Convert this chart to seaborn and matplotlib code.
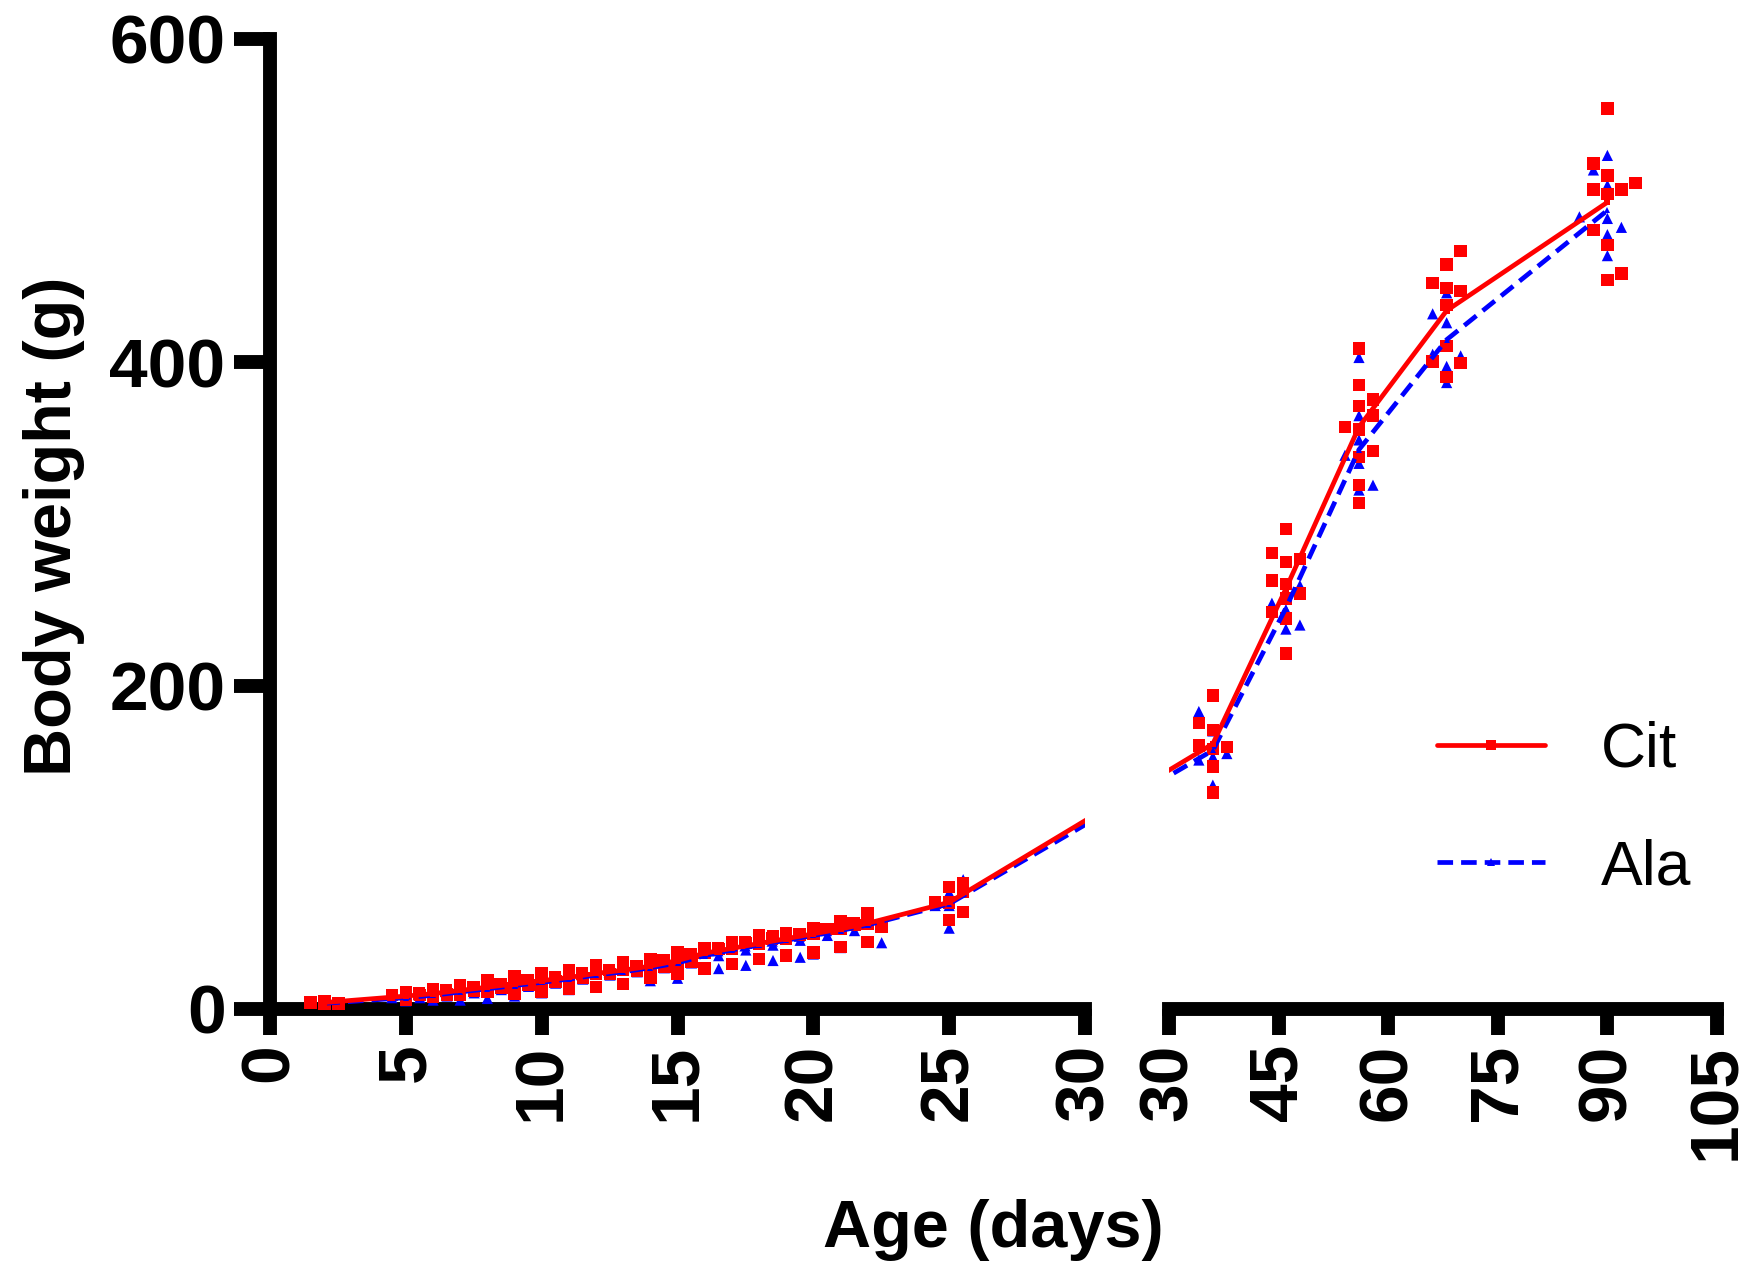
import numpy as np
import pandas as pd
import matplotlib
matplotlib.use('Agg')
import matplotlib.pyplot as plt
from matplotlib.lines import Line2D
import seaborn as sns

sns.set_style('ticks', rc={'axes.edgecolor': 'black', 'xtick.color': 'black',
                           'ytick.color': 'black', 'text.color': 'black'})
plt.rcParams['font.family'] = ['DejaVu Sans']

# group means (g)
left_days = [2, 5, 6, 7, 8, 9, 10, 11, 12, 13, 14, 15, 16, 17, 18, 19, 20, 21, 22, 25]
cit_left_mean = [4, 8, 9.5, 11.5, 13.5, 15.5, 17.5, 19.5, 22, 24, 26.5, 30, 34.5, 37.5, 40.5, 43.5, 46.5, 49.5, 53, 66]
ala_left_mean = [3.5, 7, 8.5, 10.5, 12.5, 14.5, 16.5, 18.5, 21, 23, 25.5, 28.5, 33, 36.5, 39.5, 42.5, 45.5, 48.5, 52, 65]

right_days = [36, 46, 56, 68, 90]
cit_right_mean = [164, 260, 360, 432, 499]
ala_right_mean = [160, 248, 346, 414, 494]

left_ticks = [0, 5, 10, 15, 20, 25, 30]
right_ticks = [30, 45, 60, 75, 90, 105]
y_ticks = [0, 200, 400, 600]

# individual animals: (age, scatter column, weight)
cit_pts = [
    (2, 0, 5), (2, -1, 4), (2, 0, 4), (2, 1, 3.5), (2, 0, 3),
    (5, 0, 10.5), (5, -1, 8.5), (5, 0, 8), (5, 1, 8.5), (5, 0, 6),
    (6, 0, 12.5), (6, -1, 9.5), (6, 0, 9.5), (6, 1, 9), (6, 0, 7.5),
    (7, 0, 15), (7, -1, 11.5), (7, 0, 11.5), (7, 1, 11), (7, 0, 9),
    (8, 0, 18), (8, -1, 13.5), (8, 0, 13.5), (8, 1, 13), (8, 0, 10.5),
    (9, 0, 20.5), (9, -1, 15.5), (9, 0, 15.5), (9, 1, 15), (9, 0, 9.5),
    (10, 0, 22), (10, -1, 17.5), (10, 0, 17.5), (10, 1, 17), (10, 0, 10.5),
    (11, 0, 24), (11, -1, 19.5), (11, 0, 19.5), (11, 1, 19), (11, 0, 12.5),
    (12, 0, 27), (12, -1, 22), (12, 0, 22), (12, 1, 21.5), (12, 0, 13.5),
    (13, 0, 29), (13, -1, 24), (13, 0, 24), (13, 1, 23.5), (13, 0, 15.5),
    (14, 0, 31), (14, -1, 26.5), (14, 0, 26.5), (14, 1, 26), (14, 0, 19),
    (15, 0, 35), (15, -1, 30), (15, 0, 30), (15, 1, 29.5), (15, 0, 22),
    (16, 0, 37.5), (16, -1, 34), (16, 0, 34.5), (16, 1, 37), (16, 0, 25),
    (17, 0, 41.5), (17, -1, 37.5), (17, 0, 37.5), (17, 1, 41), (17, 0, 28),
    (18, 0, 45.5), (18, -1, 41.5), (18, 0, 40.5), (18, 1, 45), (18, 0, 31),
    (19, 0, 47), (19, -1, 43.5), (19, 0, 43.5), (19, 1, 46.5), (19, 0, 33),
    (20, 0, 50), (20, -1, 46), (20, 0, 46.5), (20, 1, 49.5), (20, 0, 35),
    (21, 0, 54), (21, -1, 49.5), (21, 0, 49.5), (21, 1, 52), (21, 0, 38.5),
    (22, 0, 59), (22, -1, 53), (22, 0, 53), (22, 1, 51), (22, 0, 41.5),
    (25, 0, 75.5), (25, -1, 66), (25, 0, 66), (25, 1, 77.5), (25, 0, 55), (25, 1, 60), (25, 1, 72.5),
    (36, 0, 194), (36, -1, 177), (36, 0, 172.5), (36, -1, 163), (36, 0, 161), (36, 1, 162), (36, 0, 150), (36, 0, 134),
    (46, 0, 297), (46, -1, 282), (46, 0, 276.5), (46, -1, 265), (46, 0, 263), (46, 0, 254), (46, 1, 257),
    (46, -1, 245.5), (46, 0, 241.5), (46, 0, 220), (46, 1, 278.5),
    (56, 0, 408.5), (56, 0, 386), (56, 0, 373), (56, 0, 358.5), (56, 0, 341.5), (56, 0, 324), (56, 0, 313),
    (56, -1, 360), (56, 1, 377), (56, 1, 367), (56, 1, 345),
    (68, 0, 460.5), (68, 0, 446), (68, 0, 435.5), (68, 0, 410), (68, 0, 391), (68, -1, 449), (68, -1, 400.5),
    (68, 1, 469), (68, 1, 444), (68, 1, 399.5),
    (90, 0, 557), (90, 0, 515.5), (90, 0, 504), (90, 0, 472.5), (90, 0, 451), (90, -1, 523), (90, -1, 507),
    (90, -1, 482), (90, 1, 507), (90, 1, 455), (90, 2, 511),
]
ala_pts = [
    (2, 0, 4), (2, -1, 3.5), (2, 1, 3.5), (2, 0, 3),
    (5, 0, 9), (5, -1, 7), (5, 1, 7), (5, 0, 5),
    (6, 0, 11), (6, -1, 8.5), (6, 1, 8), (6, 0, 5.5),
    (7, 0, 13), (7, -1, 10.5), (7, 1, 10), (7, 0, 5.5),
    (8, 0, 16), (8, -1, 12.5), (8, 1, 12), (8, 0, 6.5),
    (9, 0, 19), (9, -1, 14.5), (9, 1, 14), (9, 0, 8),
    (10, 0, 21), (10, -1, 16.5), (10, 1, 16), (10, 0, 10),
    (11, 0, 23), (11, -1, 18.5), (11, 1, 18.5), (11, 0, 12),
    (12, 0, 26), (12, -1, 21), (12, 1, 21), (12, 0, 13.5),
    (13, 0, 28), (13, -1, 23), (13, 1, 23), (13, 0, 15.5),
    (14, 0, 31), (14, -1, 25.5), (14, 1, 25.5), (14, 0, 17.5),
    (15, 0, 34), (15, -1, 28.5), (15, 1, 28.5), (15, 0, 19),
    (16, 0, 37), (16, -1, 32.5), (16, 1, 33), (16, 1, 25),
    (17, 0, 40), (17, -1, 36), (17, 1, 36.5), (17, 1, 27),
    (18, 0, 44), (18, -1, 39), (18, 1, 39.5), (18, 1, 30),
    (19, 0, 47), (19, -1, 42), (19, 1, 42.5), (19, 1, 32),
    (20, 0, 50), (20, -1, 45), (20, 1, 45.5), (20, 0, 34),
    (21, 0, 53), (21, -1, 48.5), (21, 1, 48.5), (21, 0, 38),
    (22, 0, 57), (22, -1, 52), (22, 1, 52), (22, 1, 41),
    (25, 1, 80), (25, -1, 64), (25, 0, 64), (25, 0, 72), (25, 0, 50),
    (36, -1, 184), (36, 0, 172), (36, 0, 156), (36, 1, 158), (36, -1, 154), (36, 0, 138.5),
    (46, -1, 251), (46, 0, 247), (46, 1, 262), (46, 0, 235), (46, 1, 237.5),
    (56, 0, 403), (56, 0, 367), (56, 0, 352), (56, 0, 337.5), (56, 0, 321), (56, -1, 342.5), (56, 1, 324),
    (68, 0, 443), (68, 0, 424.5), (68, 0, 397.5), (68, 0, 387.5), (68, -1, 430), (68, -1, 405), (68, 1, 404),
    (90, 0, 528), (90, 0, 509.5), (90, 0, 489), (90, 0, 479), (90, 0, 466), (90, -1, 519), (90, 1, 483.5), (90, -2, 490),
]

RED = '#ff0000'
BLUE = '#0000ff'
DASH = (0, (3.3, 1.7))
ARIAL = ['Liberation Sans', 'DejaVu Sans']

fig = plt.figure(figsize=(17.54, 12.86), dpi=100)
ax_l = fig.add_axes([270 / 1754, 1 - 1009 / 1286, 815 / 1754, 970 / 1286])
ax_r = fig.add_axes([1169 / 1754, 1 - 1009 / 1286, 548 / 1754, 970 / 1286], sharey=ax_l)

ax_l.set_xlim(0, 30)
ax_r.set_xlim(30, 105)
ax_l.set_ylim(0, 600)


def px_per_unit(ax):
    a = ax.transData.transform((0, 0))
    b = ax.transData.transform((1, 0))
    return b[0] - a[0]


def bridge(src, dst, x, y):
    # same screen point, expressed in the other panel's data units
    return dst.transData.inverted().transform(src.transData.transform((x, y)))


cit = pd.DataFrame(cit_pts, columns=['age', 'col', 'weight'])
ala = pd.DataFrame(ala_pts, columns=['age', 'col', 'weight'])

for ax, is_left in [(ax_l, True), (ax_r, False)]:
    jit = 14 / px_per_unit(ax)
    for df, color, marker, size in [(ala, BLUE, '^', 65), (cit, RED, 's', 80)]:
        sub = df[df['age'] <= 30] if is_left else df[df['age'] > 30]
        sns.scatterplot(x=sub['age'] + sub['col'] * jit, y=sub['weight'], ax=ax,
                        color=color, marker=marker, s=size, edgecolor='none',
                        clip_on=False, legend=False, zorder=3)

# mean lines, continued straight across the axis break
for mean_l, mean_r, color, ls, mk in [(ala_left_mean, ala_right_mean, BLUE, DASH, '^'),
                                      (cit_left_mean, cit_right_mean, RED, '-', 's')]:
    bx, by = bridge(ax_r, ax_l, right_days[0], mean_r[0])
    sns.lineplot(x=left_days + [bx], y=mean_l + [by], ax=ax_l, sort=False, errorbar=None,
                 color=color, linewidth=3.4, linestyle=ls, marker=mk, markersize=4,
                 markeredgewidth=0, zorder=4)
    bx, by = bridge(ax_l, ax_r, left_days[-1], mean_l[-1])
    sns.lineplot(x=[bx] + right_days, y=[by] + mean_r, ax=ax_r, sort=False, errorbar=None,
                 color=color, linewidth=3.4, linestyle=ls, marker=mk, markersize=4,
                 markeredgewidth=0, zorder=4)

# axes styling
LW = 10
for ax in (ax_l, ax_r):
    ax.spines['top'].set_visible(False)
    ax.spines['right'].set_visible(False)
    ax.spines['bottom'].set_linewidth(LW)
    ax.set_xlabel('')
    ax.set_ylabel('')
    ax.tick_params(axis='x', which='major', direction='out', length=19, width=LW,
                   labelsize=50, pad=6, labelrotation=90)
    ax.tick_params(axis='x', which='minor', direction='inout', length=38, width=LW)
    ax.set_xticks([30], minor=True)

ax_l.set_xticks(left_ticks)
ax_r.set_xticks(right_ticks)
ax_l.set_yticks(y_ticks)
ax_l.spines['left'].set_linewidth(LW)
ax_l.tick_params(axis='y', direction='out', length=26, width=LW, labelsize=50, pad=6)
ax_r.spines['left'].set_visible(False)
ax_r.tick_params(axis='y', left=False, labelleft=False)

for ax in (ax_l, ax_r):
    for t in ax.get_xticklabels() + ax.get_yticklabels():
        t.set_fontweight('bold')
        t.set_family(ARIAL)

fig.text(54 / 1754, 1 - 526 / 1286, 'Body weight (g)', rotation=90, ha='center', va='center',
         fontsize=48, fontweight='bold', family=ARIAL)
fig.text(993 / 1754, 39 / 1286, 'Age (days)', ha='center', va='baseline',
         fontsize=48, fontweight='bold', family=ARIAL)

handles = [Line2D([], [], color=RED, lw=3.4, marker='s', markersize=7, markeredgewidth=0),
           Line2D([], [], color=BLUE, lw=3.4, linestyle=DASH, marker='^', markersize=6, markeredgewidth=0)]
fig.legend(handles, ['Cit', 'Ala'], loc='center left', bbox_to_anchor=(1437 / 1754, 1 - 809 / 1286),
           bbox_transform=fig.transFigure, frameon=False, borderpad=0, borderaxespad=0,
           handlelength=1.72, handletextpad=0.9, labelspacing=0.93,
           prop={'family': ARIAL, 'size': 45})

fig.savefig('out.png', dpi=100)
